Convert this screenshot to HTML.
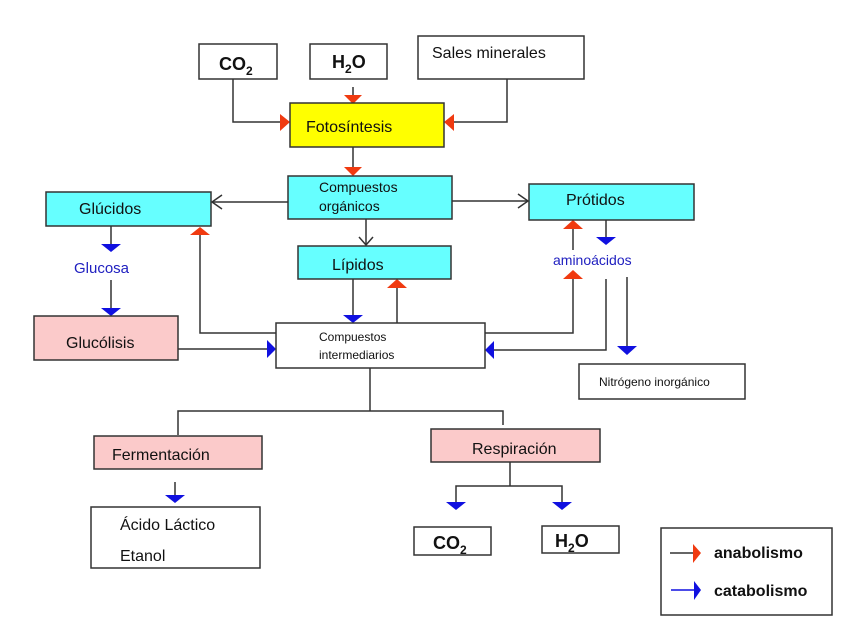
<!DOCTYPE html>
<html><head><meta charset="utf-8"><style>
html,body{margin:0;padding:0;background:#fff;}
svg{display:block;}
text{font-family:"Liberation Sans",sans-serif;}
</style></head><body>
<svg width="848" height="636" viewBox="0 0 848 636" xmlns="http://www.w3.org/2000/svg">
<g stroke="#333" stroke-width="1.5" fill="none">
<polyline points="233,79 233,122 282,122"/>
<line x1="353" y1="87" x2="353" y2="97"/>
<polyline points="507,79 507,122 452,122"/>
<line x1="353" y1="147" x2="353" y2="170"/>
<line x1="288" y1="202" x2="212" y2="202"/>
<polyline points="222,195 212,202 222,209"/>
<line x1="452" y1="201" x2="528" y2="201"/>
<polyline points="518,194 528,201 518,208"/>
<line x1="366" y1="219" x2="366" y2="245"/>
<polyline points="359,237 366,245 373,237"/>
<line x1="111" y1="226" x2="111" y2="245"/>
<line x1="111" y1="280" x2="111" y2="309"/>
<line x1="178" y1="349" x2="267" y2="349"/>
<polyline points="276,333 200,333 200,234"/>
<line x1="353" y1="279" x2="353" y2="316"/>
<line x1="397" y1="323" x2="397" y2="287"/>
<line x1="573" y1="250" x2="573" y2="228"/>
<line x1="606" y1="218" x2="606" y2="238"/>
<polyline points="485,333 573,333 573,278"/>
<polyline points="606,279 606,350 494,350"/>
<line x1="627" y1="277" x2="627" y2="347"/>
<line x1="370" y1="368" x2="370" y2="411"/>
<polyline points="178,435 178,411 503,411 503,425"/>
<line x1="175" y1="482" x2="175" y2="496"/>
<polyline points="510,462 510,486"/>
<polyline points="456,502 456,486 562,486 562,502"/>
</g>
<g fill="#f03a10">
<polygon points="280,114 290,122 280,131"/>
<polygon points="344,95 362,95 353,104"/>
<polygon points="454,114 444,122 454,131"/>
<polygon points="344,167 362,167 353,176"/>
<polygon points="190,235 210,235 200,227"/>
<polygon points="387,288 407,288 397,279"/>
<polygon points="563,229 583,229 573,220"/>
<polygon points="563,279 583,279 573,270"/>
</g>
<g fill="#1010e0">
<polygon points="101,244 121,244 111,252"/>
<polygon points="101,308 121,308 111,316"/>
<polygon points="267,340 276,349 267,358"/>
<polygon points="343,315 363,315 353,323"/>
<polygon points="596,237 616,237 606,245"/>
<polygon points="494,341 485,350 494,359"/>
<polygon points="617,346 637,346 627,355"/>
<polygon points="165,495 185,495 175,503"/>
<polygon points="446,502 466,502 456,510"/>
<polygon points="552,502 572,502 562,510"/>
</g>
<g stroke="#333" stroke-width="1.5">
<rect x="199" y="44" width="78" height="35" fill="#fff"/>
<rect x="310" y="44" width="77" height="35" fill="#fff"/>
<rect x="418" y="36" width="166" height="43" fill="#fff"/>
<rect x="290" y="103" width="154" height="44" fill="#ffff00"/>
<rect x="288" y="176" width="164" height="43" fill="#66ffff"/>
<rect x="46" y="192" width="165" height="34" fill="#66ffff"/>
<rect x="529" y="184" width="165" height="36" fill="#66ffff"/>
<rect x="298" y="246" width="153" height="33" fill="#66ffff"/>
<rect x="34" y="316" width="144" height="44" fill="#fbcaca"/>
<rect x="276" y="323" width="209" height="45" fill="#fff"/>
<rect x="579" y="364" width="166" height="35" fill="#fff"/>
<rect x="94" y="436" width="168" height="33" fill="#fbcaca"/>
<rect x="431" y="429" width="169" height="33" fill="#fbcaca"/>
<rect x="91" y="507" width="169" height="61" fill="#fff"/>
<rect x="414" y="527" width="77" height="28" fill="#fff"/>
<rect x="542" y="526" width="77" height="27" fill="#fff"/>
<rect x="661" y="528" width="171" height="87" fill="#fff"/>
</g>
<line x1="670" y1="553" x2="693" y2="553" stroke="#333" stroke-width="1.5"/>
<line x1="671" y1="590" x2="694" y2="590" stroke="#1010e0" stroke-width="1.5"/>
<polygon points="693,544 701,553 693,563" fill="#f03a10"/>
<polygon points="694,581 701,590 694,600" fill="#1010e0"/>
<g fill="#111">
<text x="219" y="70" font-size="18" font-weight="bold">CO<tspan font-size="12" dy="5">2</tspan></text>
<text x="332" y="68" font-size="18" font-weight="bold">H<tspan font-size="12" dy="5">2</tspan><tspan dy="-5">O</tspan></text>
<text x="432" y="58" font-size="16">Sales minerales</text>
<text x="306" y="132" font-size="16">Fotosíntesis</text>
<text x="319" y="192" font-size="14">Compuestos</text>
<text x="319" y="211" font-size="14">orgánicos</text>
<text x="79" y="214" font-size="16">Glúcidos</text>
<text x="566" y="205" font-size="16">Prótidos</text>
<text x="332" y="270" font-size="16">Lípidos</text>
<text x="66" y="348" font-size="16">Glucólisis</text>
<text x="319" y="341" font-size="12">Compuestos</text>
<text x="319" y="359" font-size="12">intermediarios</text>
<text x="599" y="386" font-size="12">Nitrógeno inorgánico</text>
<text x="112" y="460" font-size="16">Fermentación</text>
<text x="472" y="454" font-size="16">Respiración</text>
<text x="120" y="530" font-size="16">Ácido Láctico</text>
<text x="120" y="561" font-size="16">Etanol</text>
<text x="433" y="549" font-size="18" font-weight="bold">CO<tspan font-size="12" dy="5">2</tspan></text>
<text x="555" y="547" font-size="18" font-weight="bold">H<tspan font-size="12" dy="5">2</tspan><tspan dy="-5">O</tspan></text>
<text x="714" y="558" font-size="16" font-weight="bold">anabolismo</text>
<text x="714" y="596" font-size="16" font-weight="bold">catabolismo</text>
</g>
<g fill="#2020c0">
<text x="74" y="273" font-size="15">Glucosa</text>
<text x="553" y="265" font-size="14">aminoácidos</text>
</g>
</svg>
</body></html>
